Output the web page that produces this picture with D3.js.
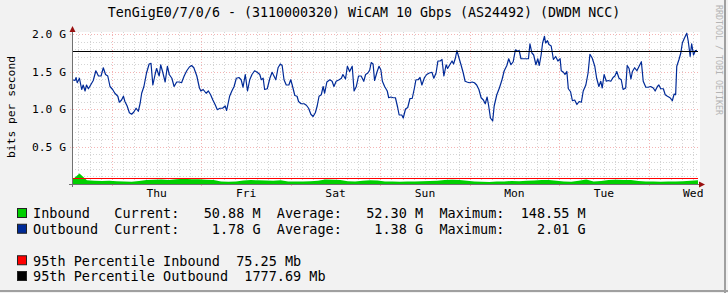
<!DOCTYPE html>
<html>
<head>
<meta charset="utf-8">
<script src="https://cdn.jsdelivr.net/npm/d3@7"></script>
<style>
    html, body { margin: 0; padding: 0; background: #f2f2f2; }
    svg { display: block; }
    text { font-family: "DejaVu Sans Mono", monospace; white-space: pre; }
</style>
</head>
<body>
<svg id="chart" width="728" height="293"></svg>
<script>
// タイトル・軸ラベル
const titleText = "TenGigE0/7/0/6 - (3110000320) WiCAM 10 Gbps (AS24492) (DWDM NCC)";
const yAxisTitle = "bits per second";
const watermark = "RRDTOOL / TOBI OETIKER";
const yTickValues = [0.5, 1.0, 1.5, 2.0];   // Gbps
const yMax = 2.0;
const spanHours = 168;
const startTime = new Date(2014, 0, 1, 13, 16); // Wed 13:16

// Inbound (Mbps), one value every 2 hours
const inboundStep = 2;
const inboundMbps = [
    53, 140, 50, 45, 40, 42, 38, 32, 30, 40, 55, 58, 60, 55, 62, 70, 65, 62, 58, 55,
    32, 30, 35, 48, 52, 50, 48, 45, 50, 35, 33, 35, 38, 45, 60, 58, 52, 38, 35, 45,
    50, 48, 35, 33, 30, 32, 35, 38, 40, 45, 55, 58, 55, 45, 35, 30, 28, 32, 35, 40,
    38, 42, 48, 55, 53, 45, 35, 30, 45, 60, 35, 40, 55, 58, 55, 52, 40, 35, 32, 30,
    32, 35, 38, 45, 50.88
];

// Outbound [hours since start, Gbps]
const outbound = [
    [0.1,1.39],[0.8,1.38],[1.1,1.42],[1.4,1.35],[2.0,1.41],[2.6,1.26],[3.0,1.32],[3.5,1.24],[3.9,1.32],[4.4,1.27],
    [5.0,1.32],[5.7,1.38],[6.4,1.51],[7.1,1.44],[7.8,1.44],[8.4,1.55],[9.0,1.46],[9.6,1.44],[10.2,1.30],[10.9,1.26],
    [11.5,1.21],[12.3,1.17],[12.7,1.09],[13.3,1.12],[13.8,1.17],[14.2,1.10],[14.8,1.04],[15.4,0.95],[16.0,0.93],[16.6,0.96],
    [17.2,1.01],[17.8,0.97],[18.3,1.08],[18.7,1.21],[19.3,1.30],[20.0,1.48],[20.7,1.60],[21.2,1.61],[21.7,1.32],[22.3,1.46],
    [22.7,1.54],[23.4,1.44],[23.8,1.59],[24.3,1.50],[25.0,1.36],[25.6,1.57],[26.1,1.46],[26.8,1.41],[27.4,1.30],[28.1,1.36],
    [28.8,1.36],[29.4,1.35],[30.1,1.44],[30.8,1.51],[31.5,1.56],[32.1,1.58],[32.7,1.55],[33.5,1.44],[34.2,1.28],[34.6,1.24],
    [35.2,1.26],[36.0,1.21],[36.6,1.24],[37.2,1.19],[37.8,1.12],[38.4,1.06],[39.0,0.99],[39.7,1.01],[40.4,1.01],[41.1,1.04],
    [41.5,0.98],[42.3,1.17],[42.9,1.24],[43.5,1.30],[44.1,1.41],[44.8,1.42],[45.4,1.39],[45.9,1.29],[46.5,1.46],[47.1,1.24],
    [47.7,1.39],[48.3,1.46],[49.0,1.51],[49.7,1.49],[50.4,1.46],[50.8,1.39],[51.3,1.41],[51.7,1.26],[52.4,1.27],[53.1,1.41],
    [53.7,1.49],[54.2,1.44],[54.7,1.39],[55.3,1.55],[55.9,1.60],[56.4,1.58],[56.9,1.39],[57.5,1.32],[58.2,1.32],[58.7,1.39],
    [59.1,1.32],[59.8,1.18],[60.4,1.17],[60.8,1.10],[61.5,1.07],[62.3,1.07],[62.9,1.05],[63.5,1.01],[64.1,0.93],[64.7,0.90],
    [65.3,0.95],[65.8,1.04],[66.3,1.17],[66.9,1.19],[67.4,1.30],[67.8,1.21],[68.4,1.36],[69.2,1.39],[69.8,1.37],[70.3,1.30],
    [70.9,1.37],[71.7,1.39],[72.3,1.41],[72.7,1.46],[73.4,1.40],[73.9,1.57],[74.5,1.50],[75.2,1.57],[75.7,1.24],[76.3,1.30],
    [76.9,1.44],[77.6,1.44],[78.3,1.37],[78.8,1.46],[79.4,1.48],[79.9,1.52],[80.3,1.62],[80.8,1.60],[81.2,1.38],[81.9,1.50],
    [82.4,1.57],[82.9,1.52],[83.3,1.37],[83.9,1.30],[84.6,1.24],[85.0,1.15],[85.6,1.16],[86.2,1.15],[86.8,1.15],[87.4,1.02],
    [87.8,0.92],[88.5,0.92],[88.9,0.88],[89.5,1.00],[90.1,1.02],[90.7,1.14],[91.3,1.14],[91.9,1.28],[92.3,1.39],[92.9,1.39],
    [93.4,1.42],[93.9,1.32],[94.6,1.42],[95.2,1.46],[95.9,1.48],[96.6,1.49],[97.1,1.41],[97.7,1.48],[98.2,1.64],[98.8,1.64],
    [99.3,1.66],[99.8,1.44],[100.4,1.59],[100.8,1.54],[101.5,1.60],[102.0,1.64],[102.4,1.60],[102.9,1.68],[103.3,1.78],[103.8,1.69],
    [104.4,1.59],[105.0,1.48],[105.5,1.37],[106.0,1.36],[106.6,1.35],[107.4,1.36],[108.0,1.35],[108.6,1.32],[109.2,1.26],[109.8,1.15],
    [110.4,1.12],[110.9,1.07],[111.4,1.16],[111.8,1.05],[112.3,0.88],[112.9,0.84],[113.3,1.04],[114.0,1.19],[114.7,1.28],[115.4,1.39],
    [116.0,1.51],[116.7,1.58],[117.2,1.67],[117.8,1.59],[118.4,1.63],[119.0,1.79],[119.6,1.77],[120.0,1.78],[120.5,1.67],[121.1,1.67],
    [121.9,1.67],[122.5,1.67],[122.9,1.87],[123.4,1.75],[123.9,1.72],[124.5,1.59],[125.0,1.67],[125.4,1.58],[125.9,1.72],[126.3,1.88],
    [126.8,1.97],[127.1,1.88],[127.6,1.91],[128.0,1.86],[128.6,1.84],[129.2,1.66],[129.8,1.70],[130.4,1.64],[131.0,1.67],[131.3,1.51],
    [131.9,1.49],[132.3,1.46],[132.8,1.50],[133.2,1.27],[133.8,1.23],[134.3,1.11],[134.9,1.12],[135.5,1.06],[136.1,1.10],[136.7,1.09],
    [137.2,1.24],[137.9,1.32],[138.5,1.48],[139.0,1.73],[139.6,1.68],[140.3,1.57],[140.8,1.41],[141.4,1.30],[141.9,1.37],[142.3,1.28],
    [142.8,1.46],[143.4,1.37],[143.9,1.38],[144.6,1.37],[145.2,1.42],[145.7,1.44],[146.2,1.50],[146.8,1.41],[147.4,1.39],[147.9,1.26],
    [148.6,1.28],[149.0,1.58],[149.5,1.54],[150.0,1.40],[150.4,1.50],[151.0,1.55],[151.6,1.51],[152.2,1.57],[152.8,1.63],[153.3,1.37],
    [154.0,1.29],[154.6,1.29],[155.3,1.30],[156.0,1.28],[156.5,1.24],[157.1,1.30],[157.5,1.32],[158.0,1.27],[158.7,1.27],[159.2,1.19],
    [159.8,1.17],[160.5,1.15],[161.1,1.11],[161.6,1.20],[162.0,1.19],[162.3,1.57],[162.9,1.66],[163.4,1.75],[163.8,1.88],[164.4,1.95],
    [165.0,2.01],[165.4,1.90],[165.9,1.70],[166.3,1.87],[166.8,1.72],[167.3,1.78],[167.7,1.78]
];

// 95パーセンタイル (Mbps)
const pct95Inbound = 75.25;
const pct95Outbound = 1777.69;

// 凡例
const legendColors = ["#00CF00", "#002A97", "#FF0000", "#000000"];
const legendRows = [0, 1, 3, 4];
const legendTexts = [
    "Inbound   Current:   50.88 M  Average:   52.30 M  Maximum:  148.55 M",
    "Outbound  Current:    1.78 G  Average:    1.38 G  Maximum:    2.01 G",
    "95th Percentile Inbound  75.25 Mb",
    "95th Percentile Outbound  1777.69 Mb"
];

const svg = d3.select("#chart");
const W = 728, H = 293;
const plotLeft = 72, plotRight = 698, plotTop = 34, plotBottom = 184;

const endTime = d3.timeHour.offset(startTime, spanHours);
const hourToDate = h => new Date(startTime.getTime() + h * 3600 * 1000);

const xScale = d3.scaleTime().domain([startTime, endTime]).range([plotLeft, plotRight]);
const yScale = d3.scaleLinear().domain([0, yMax]).range([plotBottom, plotTop]);

// 背景と枠
svg.append("rect").attr("width", W).attr("height", H).attr("fill", "#f2f2f2");
svg.append("line").attr("x1", 725).attr("x2", 725).attr("y1", 0).attr("y2", H)
    .attr("stroke", "#a0a0a0").attr("stroke-width", 2);
svg.append("line").attr("x1", 0).attr("x2", W).attr("y1", 291).attr("y2", 291)
    .attr("stroke", "#a0a0a0").attr("stroke-width", 2);
svg.append("rect").attr("x", plotLeft).attr("y", 32)
    .attr("width", 700 - plotLeft).attr("height", plotBottom - 32).attr("fill", "#ffffff");

// グリッド
const minorColor = "#d4d4d4", majorColor = "#f4b4b4";
const minorY = d3.range(1, 21).map(i => i / 10).filter(v => !yTickValues.some(t => Math.abs(t - v) < 1e-6));
const grid = svg.append("g").attr("shape-rendering", "crispEdges");

grid.selectAll(".hminor").data(minorY).enter().append("line")
    .attr("x1", plotLeft).attr("x2", plotRight)
    .attr("y1", d => Math.round(yScale(d)) + 0.5).attr("y2", d => Math.round(yScale(d)) + 0.5)
    .attr("stroke", minorColor).attr("stroke-dasharray", "1,2");

const minorX = d3.timeHour.every(3).range(startTime, endTime).filter(d => d.getHours() !== 0);
grid.selectAll(".vminor").data(minorX).enter().append("line")
    .attr("x1", d => Math.round(xScale(d)) + 0.5).attr("x2", d => Math.round(xScale(d)) + 0.5)
    .attr("y1", 32).attr("y2", plotBottom)
    .attr("stroke", minorColor).attr("stroke-dasharray", "1,2");

grid.selectAll(".hmajor").data(yTickValues).enter().append("line")
    .attr("x1", plotLeft - 2).attr("x2", plotRight)
    .attr("y1", d => Math.round(yScale(d)) + 0.5).attr("y2", d => Math.round(yScale(d)) + 0.5)
    .attr("stroke", majorColor).attr("stroke-dasharray", "1,2");

const days = d3.timeDay.range(startTime, endTime);
grid.selectAll(".vmajor").data(days).enter().append("line")
    .attr("x1", d => Math.round(xScale(d)) + 0.5).attr("x2", d => Math.round(xScale(d)) + 0.5)
    .attr("y1", 32).attr("y2", plotBottom + 2)
    .attr("stroke", majorColor).attr("stroke-dasharray", "1,2");

// Inbound エリア
const inboundData = inboundMbps.map((v, i) => [i * inboundStep, v / 1000]);
const area = d3.area()
    .x(d => xScale(hourToDate(d[0])))
    .y0(yScale(0))
    .y1(d => yScale(d[1]));
svg.append("path").datum(inboundData)
    .attr("d", area).attr("fill", "#00CF00");

// Outbound ライン
const line = d3.line()
    .x(d => xScale(hourToDate(d[0])))
    .y(d => yScale(d[1]));
svg.append("path").datum(outbound)
    .attr("d", line).attr("fill", "none")
    .attr("stroke", "#002A97").attr("stroke-width", 1.2).attr("stroke-linejoin", "round");

// 95パーセンタイル
[[pct95Inbound, "#FF0000"], [pct95Outbound, "#000000"]].forEach(([v, c]) => {
    const yy = Math.round(yScale(v / 1000)) + 0.5;
    svg.append("line").attr("x1", plotLeft).attr("x2", plotRight)
        .attr("y1", yy).attr("y2", yy).attr("stroke", c).attr("stroke-width", 1)
        .attr("shape-rendering", "crispEdges");
});

// 軸
svg.append("line").attr("x1", plotLeft + 0.5).attr("x2", plotLeft + 0.5)
    .attr("y1", plotBottom + 3).attr("y2", 30)
    .attr("stroke", "#707070").attr("shape-rendering", "crispEdges");
svg.append("line").attr("x1", plotLeft - 3).attr("x2", 700)
    .attr("y1", plotBottom + 0.5).attr("y2", plotBottom + 0.5)
    .attr("stroke", "#707070").attr("shape-rendering", "crispEdges");
// 矢印
svg.append("path").attr("d", `M${plotLeft - 2.5},32 L${plotLeft + 3.5},32 L${plotLeft + 0.5},26 Z`)
    .attr("fill", "#9a1010");
svg.append("path").attr("d", `M699,${plotBottom - 2.5} L699,${plotBottom + 3.5} L705,${plotBottom + 0.5} Z`)
    .attr("fill", "#9a1010");

// Y軸ラベル
svg.selectAll(".ylab").data(yTickValues).enter().append("text")
    .attr("x", 66).attr("y", d => yScale(d) + 4)
    .attr("text-anchor", "end").attr("font-size", 11.3).attr("fill", "#000")
    .text(d => d3.format(".1f")(d) + " G");

// X軸ラベル (正午)
const noons = days.map(d => d3.timeHour.offset(d, 12))
    .filter(d => d >= startTime && d <= endTime);
svg.selectAll(".xlab").data(noons).enter().append("text")
    .attr("x", d => xScale(d)).attr("y", 197)
    .attr("text-anchor", "middle").attr("font-size", 11.3).attr("fill", "#000")
    .text(d => d3.timeFormat("%a")(d));

svg.append("text")
    .attr("transform", "translate(15,107) rotate(-90)")
    .attr("text-anchor", "middle").attr("font-size", 11.3).attr("fill", "#000")
    .text(yAxisTitle);

// タイトル
svg.append("text").attr("x", 364).attr("y", 17)
    .attr("text-anchor", "middle").attr("font-size", 13.3).attr("fill", "#000")
    .text(titleText);

// ウォーターマーク
svg.append("text").attr("transform", "translate(716,5) rotate(90)")
    .attr("font-size", 8.3).attr("fill", "#b4b4b4")
    .text(watermark);

// 凡例
const legend = svg.append("g");
legendTexts.forEach((t, i) => {
    const base = 218.3 + legendRows[i] * 15.75;
    legend.append("rect").attr("x", 17.5).attr("y", base - 9.8)
        .attr("width", 9).attr("height", 9)
        .attr("fill", legendColors[i]).attr("stroke", "#222").attr("stroke-width", 1);
    legend.append("text").attr("x", 33).attr("y", base)
        .attr("font-size", 13.5).attr("fill", "#000")
        .text(t);
});
</script>
</body>
</html>
